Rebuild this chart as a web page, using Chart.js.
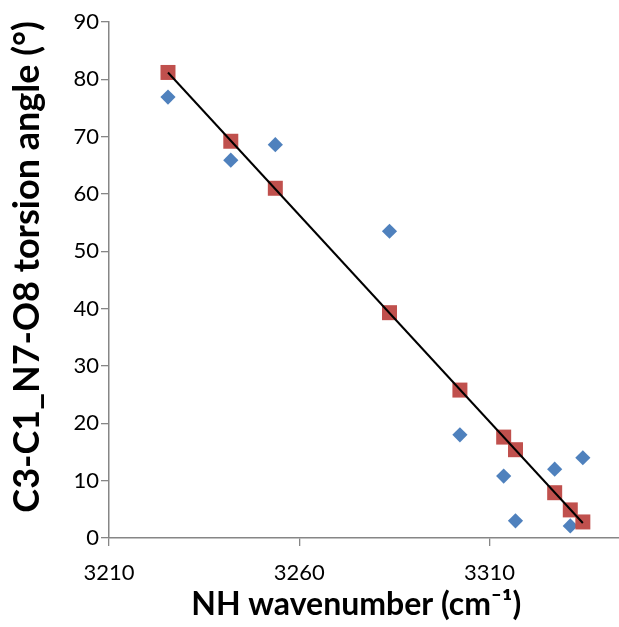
<!DOCTYPE html>
<html><head><meta charset="utf-8">
<script src="https://cdn.jsdelivr.net/npm/chart.js@4.4.1/dist/chart.umd.min.js"></script>
<style>html,body{margin:0;padding:0;background:#fff}#wrap{width:619px;height:627px}</style>
</head><body><div id="wrap"><canvas id="c" width="619" height="627"></canvas></div>
<script>
const wavenumbers = [3225.5, 3242.0, 3253.7, 3283.7, 3302.2, 3313.7, 3316.8, 3327.1, 3331.2, 3334.5];
const redAngles   = [81.2, 69.2, 61.0, 39.3, 25.8, 17.6, 15.4, 7.9, 4.9, 2.8];
const blueAngles  = [76.9, 65.9, 68.6, 53.5, 18.0, 10.8, 3.0, 12.0, 2.1, 14.0];
const xTickValues = [3210, 3260, 3310];
const yTickValues = [0, 10, 20, 30, 40, 50, 60, 70, 80, 90];
const xTitle = 'NH wavenumber (cm\u207B\u00B9)  ';
const yTitle = '   C3-C1_N7-O8 torsion angle (\u00B0)';

// least-squares trendline of the red series
const n = wavenumbers.length;
const mx = wavenumbers.reduce((a,b)=>a+b,0)/n;
const my = redAngles.reduce((a,b)=>a+b,0)/n;
let sxy=0, sxx=0;
for (let i=0;i<n;i++){ sxy += (wavenumbers[i]-mx)*(redAngles[i]-my); sxx += (wavenumbers[i]-mx)**2; }
const slope = sxy/sxx, icpt = my - slope*mx;
const xMin = Math.min(...wavenumbers), xMax = Math.max(...wavenumbers);
const trend = [{x:xMin, y:icpt+slope*xMin},{x:xMax, y:icpt+slope*xMax}];

const pts = (ys)=>wavenumbers.map((x,i)=>({x, y:ys[i]}));
const axisColor = '#868686';
const tickFont = {family:'Lato', size:22};

new Chart(document.getElementById('c'), {
  type: 'scatter',
  data: { datasets: [
    { type:'line', data: trend, borderColor:'#000', borderWidth:2, pointRadius:0, fill:false, order:0 },
    { data: pts(redAngles), pointStyle:'rect', pointRadius:10.6, backgroundColor:'#C0504D', borderColor:'#C0504D', borderWidth:0, order:1 },
    { data: pts(blueAngles), pointStyle:'rectRot', pointRadius:7.6, backgroundColor:'#4F81BD', borderColor:'#4F81BD', borderWidth:0, order:2 }
  ]},
  options: {
    responsive:false, animation:false, events:[],
    layout:{ padding:{top:22, right:0, left:0, bottom:0}, autoPadding:false },
    plugins:{ legend:{display:false}, tooltip:{enabled:false} },
    scales:{
      x:{ type:'linear', min:3210, max:3344,
        afterBuildTicks: s => { s.ticks = xTickValues.map(v=>({value:v})); },
        afterFit: s => { s.height = 89; },
        grid:{ drawOnChartArea:false, drawTicks:true, tickLength:8, color:axisColor, lineWidth:1.3 },
        border:{ color:axisColor, width:1.5 },
        ticks:{ font:tickFont, color:'#000', padding:14, maxRotation:0, callback: v => String(v) },
        title:{ display:true, text:xTitle, font:{family:'Lato', size:32, weight:'bold'}, color:'#000', padding:{top:0,bottom:3} }
      },
      y:{ type:'linear', min:0, max:90,
        afterBuildTicks: s => { s.ticks = yTickValues.map(v=>({value:v})); },
        afterFit: s => { s.width = 109; },
        grid:{ drawOnChartArea:false, drawTicks:true, tickLength:8, color:axisColor, lineWidth:1.3 },
        border:{ color:axisColor, width:1.5 },
        ticks:{ font:tickFont, color:'#000', padding:2, callback: v => String(v) },
        title:{ display:true, text:yTitle, font:{family:'Lato', size:36, weight:'bold'}, color:'#000', padding:{top:6,bottom:0} }
      }
    }
  }
});
</script></body></html>
